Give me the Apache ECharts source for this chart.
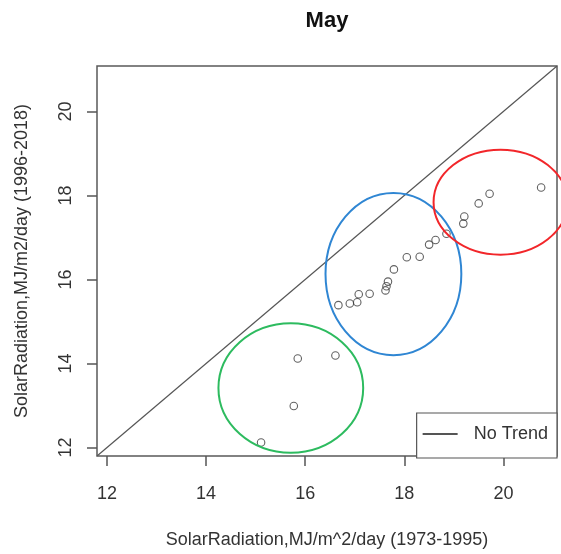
<!DOCTYPE html>
<html>
<head>
<meta charset="utf-8">
<script src="https://cdn.jsdelivr.net/npm/echarts@6/dist/echarts.min.js"></script>
<style>html,body{margin:0;padding:0;background:#fff}#c{width:561px;height:554px}</style>
</head>
<body>
<div id="c"></div>
<script>
// Data (x: 1973-1995, y: 1996-2018)
const xVals = [15.11, 15.77, 15.85, 16.61, 16.67, 16.90, 17.05, 17.08, 17.30, 17.62, 17.64, 17.67, 17.79, 18.05, 18.31, 18.50, 18.63, 18.85, 19.19, 19.21, 19.50, 19.72, 20.76];
const yVals = [12.12, 12.99, 14.12, 14.19, 15.39, 15.43, 15.46, 15.65, 15.66, 15.74, 15.84, 15.95, 16.24, 16.53, 16.54, 16.83, 16.94, 17.09, 17.33, 17.50, 17.81, 18.04, 18.19];
const axisLimits = [11.8, 21.08];
const tickValues = [12, 14, 16, 18, 20];
// Ellipse annotations: [centerX, centerY, radiusX, radiusY] in data units
const ellipseGreen = [15.71, 13.42, 1.46, 1.54];
const ellipseBlue = [17.78, 16.13, 1.37, 1.93];
const ellipseRed = [19.94, 17.84, 1.35, 1.25];
const ellipseColors = ['#2dbb5f', '#2f86d3', '#f2262a'];

const font = 'Liberation Sans, Arial, Helvetica, sans-serif';
const chart = echarts.init(document.getElementById('c'), null, {renderer: 'canvas'});
const points = xVals.map((x, i) => [x, yVals[i]]);
const ellipses = [ellipseGreen, ellipseBlue, ellipseRed].map((e, i) => e.concat([i]));

const axisCommon = {
  type: 'value', min: axisLimits[0], max: axisLimits[1],
  splitLine: {show: false},
  axisLine: {show: false},
  axisTick: {show: true, length: 10, customValues: tickValues, lineStyle: {color: '#555', width: 1.5}},
  nameLocation: 'middle',
  nameTextStyle: {fontFamily: font, fontSize: 18, color: '#333'}
};

chart.setOption({
  animation: false,
  backgroundColor: '#fff',
  grid: {left: 97, top: 66, right: 4, bottom: 96, show: true, borderColor: '#5a5a5a', borderWidth: 1.5, backgroundColor: 'transparent'},
  graphic: [{type: 'text', x: 327, y: 21, style: {text: 'May', fontFamily: font, fontWeight: 'bold', fontSize: 22, fill: '#111', align: 'center', verticalAlign: 'middle'}}],
  xAxis: Object.assign({}, axisCommon, {
    name: 'SolarRadiation,MJ/m^2/day (1973-1995)', nameGap: 75,
    axisLabel: {customValues: tickValues, margin: 29, fontFamily: font, fontSize: 18, color: '#333'}
  }),
  yAxis: Object.assign({}, axisCommon, {
    name: 'SolarRadiation,MJ/m2/day (1996-2018)', nameGap: 66, nameRotate: 90,
    axisLabel: {customValues: tickValues, margin: 22, rotate: 90, fontFamily: font, fontSize: 18, color: '#333'}
  }),
  legend: {
    data: ['No Trend'], right: 4, bottom: 96, orient: 'vertical',
    padding: [12, 9, 15, 5], itemWidth: 35, itemHeight: 14,
    borderColor: '#555', borderWidth: 1.2, borderRadius: 0, backgroundColor: '#fff',
    textStyle: {fontFamily: font, fontSize: 18, color: '#333', padding: [0, 0, 0, 11]},
    itemStyle: {opacity: 0}
  },
  series: [
    {
      name: 'No Trend', type: 'line', symbol: 'none', silent: true,
      data: [[axisLimits[0], axisLimits[0]], [axisLimits[1], axisLimits[1]]],
      lineStyle: {color: '#555', width: 1.2}, z: 2
    },
    {
      name: 'points', type: 'scatter', symbol: 'circle', symbolSize: 7.5,
      data: points,
      itemStyle: {color: 'rgba(0,0,0,0)', borderColor: '#3a3a3a', borderWidth: 1.1}, z: 3
    },
    {
      name: 'ellipses', type: 'custom', clip: false, z: 4,
      data: ellipses,
      renderItem: function (params, api) {
        const c = api.coord([api.value(0), api.value(1)]);
        const s = api.size([api.value(2), api.value(3)]);
        return {type: 'ellipse', shape: {cx: c[0], cy: c[1], rx: s[0], ry: s[1]},
          style: {fill: 'none', stroke: ellipseColors[api.value(4)], lineWidth: 2}};
      }
    }
  ]
});
</script>
</body>
</html>
